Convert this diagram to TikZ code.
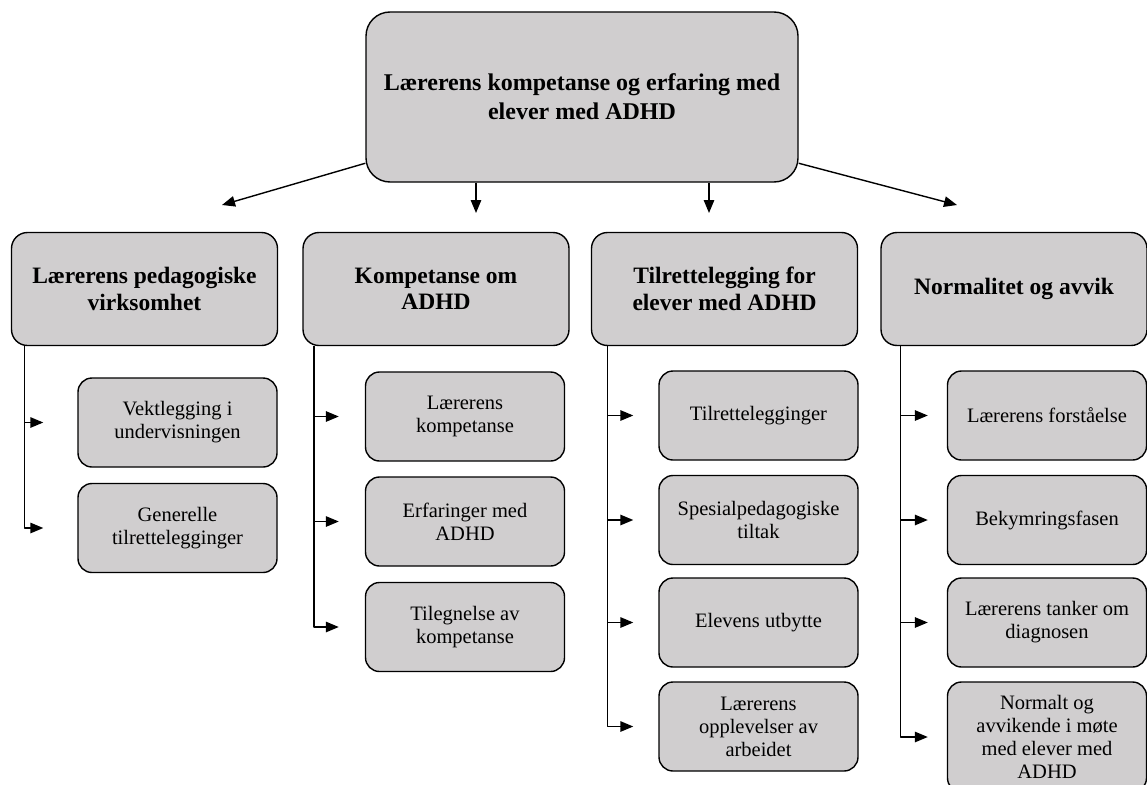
\documentclass[tikz,border=0pt]{standalone}
\usepackage{fontspec}
\setmainfont{Liberation Serif}
\usetikzlibrary{arrows.meta}
\definecolor{boksgraa}{RGB}{208,206,207}
\tikzset{
  boks/.style={draw, line width=1.4pt, fill=boksgraa, align=center, inner sep=2pt},
  hoved/.style={boks, rounded corners=24pt, minimum width=432pt, minimum height=170pt,
    font=\fontsize{24}{29}\selectfont\bfseries},
  tema/.style={boks, rounded corners=16pt, minimum width=266pt, minimum height=113pt,
    font=\fontsize{23.5}{26.5}\selectfont\bfseries},
  under/.style={boks, rounded corners=14pt, minimum width=199pt, minimum height=89pt,
    font=\fontsize{20.5}{23}\selectfont},
}
\begin{document}
\begin{tikzpicture}[x=1pt, y=-1pt, >={Stealth[length=13pt,width=10.5pt,inset=0pt]}, line width=1.4pt, line join=round]
    \useasboundingbox (0,0) rectangle (1147,784);
    \node[hoved] (top) at (582,97) {Lærerens kompetanse og erfaring med\\elever med ADHD};
    % temaer
    \node[tema] (t1) at (144.5,289) {Lærerens pedagogiske\\virksomhet};
    \node[tema] (t2) at (436,289) {Kompetanse om\\ADHD};
    \node[tema] (t3) at (724.5,289) {Tilrettelegging for\\elever med ADHD};
    \node[tema] (t4) at (1014,289) {Normalitet og avvik};
    % piler fra toppen
    \coordinate (p1) at (222,205);
    \coordinate (p2) at (476,213);
    \coordinate (p3) at (709,213);
    \coordinate (p4) at (957,205);
    \draw[->] (top.197) -- (p1);
    \draw[->] (p2 |- top.south) -- (p2);
    \draw[->] (p3 |- top.south) -- (p3);
    \draw[->] (top.343) -- (p4);
    % underkategorier
    \node[under] (u11) at (177.5,422.5) {Vektlegging i\\undervisningen};
    \node[under] (u12) at (177.5,528) {Generelle\\tilrettelegginger};
    \node[under] (u21) at (465,416.5) {Lærerens\\kompetanse};
    \node[under] (u22) at (465,521.5) {Erfaringer med\\ADHD};
    \node[under] (u23) at (465,627) {Tilegnelse av\\kompetanse};
    \node[under] (u31) at (758.5,415.5) {Tilrettelegginger};
    \node[under] (u32) at (758.5,520) {Spesialpedagogiske\\tiltak};
    \node[under] (u33) at (758.5,622.5) {Elevens utbytte};
    \node[under] (u34) at (758.5,726.5) {Lærerens\\opplevelser av\\arbeidet};
    \node[under] (u41) at (1047,415.5) {Lærerens forståelse};
    \node[under] (u42) at (1047,520) {Bekymringsfasen};
    \node[under] (u43) at (1047,622.5) {Lærerens tanker om\\diagnosen};
    \node[under, minimum height=110pt] (u44) at (1047,737) {Normalt og\\avvikende i møte\\med elever med\\ADHD};
    % stammer
    \coordinate (s1) at ([xshift=13.5pt]t1.south west);
    \coordinate (s2) at ([xshift=11.5pt]t2.south west);
    \coordinate (s3) at ([xshift=16.5pt]t3.south west);
    \coordinate (s4) at ([xshift=20pt]t4.south west);
    \foreach \k/\n/\d in {1/2/34, 2/3/26, 3/4/25, 4/4/19}
      \foreach \j in {1,...,\n}
        \draw[->] (s\k) |- ([xshift=-\d pt]u\k\j.west);
\end{tikzpicture}
\end{document}
